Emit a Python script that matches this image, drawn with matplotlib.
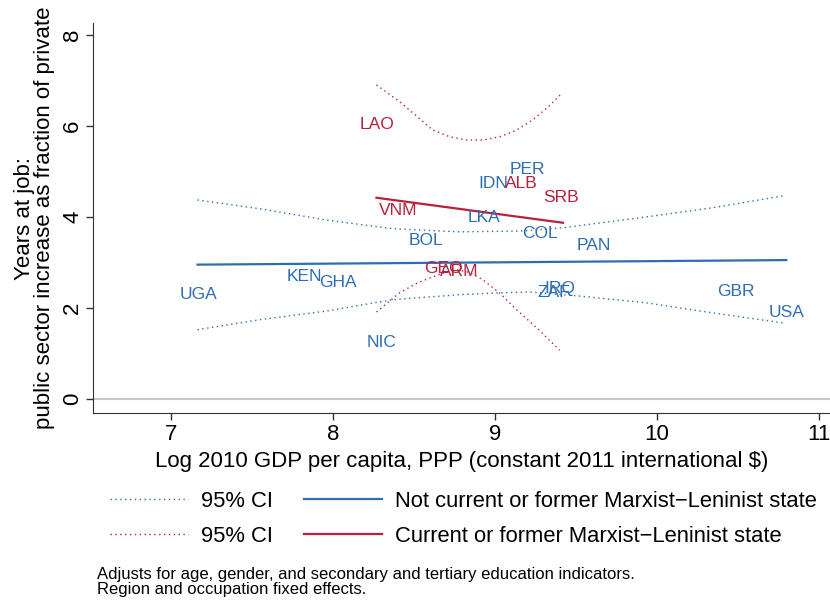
import matplotlib
matplotlib.use("Agg")
import matplotlib.pyplot as plt
from matplotlib.lines import Line2D

plt.rcParams["font.family"] = ["Liberation Sans", "DejaVu Sans"]

BLUE = "#2f6db3"
RED = "#b5223b"

# country labels, not Marxist-Leninist
blue_codes = ["UGA", "KEN", "GHA", "NIC", "BOL", "IDN", "PER", "LKA", "COL", "PAN",
              "ZAF", "IRQ", "GBR", "USA"]
blue_x = [7.17, 7.82, 8.03, 8.30, 8.57, 8.99, 9.20, 8.93, 9.28, 9.61, 9.36, 9.40, 10.49, 10.80]
blue_y = [2.29, 2.70, 2.55, 1.23, 3.47, 4.73, 5.05, 3.98, 3.63, 3.36, 2.33, 2.42, 2.35, 1.89]

# current or former Marxist-Leninist
red_codes = ["LAO", "ALB", "SRB", "VNM", "GEO", "ARM"]
red_x = [8.27, 9.16, 9.41, 8.40, 8.68, 8.78]
red_y = [6.04, 4.73, 4.42, 4.13, 2.86, 2.81]

# fitted lines
blue_fit_x = [7.161, 10.80]
blue_fit_y = [2.95, 3.05]
red_fit_x = [8.267, 9.42]
red_fit_y = [4.42, 3.87]

# 95% CI bounds
blue_ci_up_x = [7.161, 7.544, 7.958, 8.366, 8.781, 9.170, 9.417, 9.937, 10.345, 10.778]
blue_ci_up_y = [4.37, 4.18, 3.93, 3.74, 3.67, 3.69, 3.76, 4.00, 4.20, 4.46]
blue_ci_lo_x = [7.161, 7.544, 7.958, 8.366, 8.781, 9.028, 9.213, 9.522, 9.937, 10.345, 10.778]
blue_ci_lo_y = [1.52, 1.74, 1.93, 2.18, 2.29, 2.33, 2.35, 2.26, 2.11, 1.89, 1.67]

red_ci_up_x = [8.267, 8.410, 8.520, 8.614, 8.720, 8.824, 8.930, 9.028, 9.130, 9.232, 9.330, 9.417]
red_ci_up_y = [6.90, 6.53, 6.20, 5.91, 5.76, 5.69, 5.69, 5.76, 5.90, 6.13, 6.42, 6.73]
red_ci_lo_x = [8.267, 8.410, 8.520, 8.614, 8.690, 8.762, 8.840, 8.923, 9.030, 9.133, 9.270, 9.399]
red_ci_lo_y = [1.91, 2.33, 2.55, 2.68, 2.78, 2.84, 2.78, 2.62, 2.32, 1.96, 1.52, 1.07]

x_ticks = [7, 8, 9, 10, 11]
y_ticks = [0, 2, 4, 6, 8]

fig = plt.figure(figsize=(8.3, 6), dpi=100)
ax = fig.add_axes([93 / 830, 187 / 600, 737 / 830, 390 / 600])

ax.axhline(0, color="#c8c8c8", lw=1.5, zorder=0)

dot = (0, (1, 2.5))
ax.plot(blue_ci_up_x, blue_ci_up_y, color=BLUE, lw=1.0, ls=dot)
ax.plot(blue_ci_lo_x, blue_ci_lo_y, color=BLUE, lw=1.0, ls=dot)
ax.plot(red_ci_up_x, red_ci_up_y, color=RED, lw=1.0, ls=dot)
ax.plot(red_ci_lo_x, red_ci_lo_y, color=RED, lw=1.0, ls=dot)

ax.plot(blue_fit_x, blue_fit_y, color=BLUE, lw=1.6)
ax.plot(red_fit_x, red_fit_y, color=RED, lw=1.6)

for code, x, y in zip(blue_codes, blue_x, blue_y):
    ax.text(x, y, code, color=BLUE, fontsize=12.5, ha="center", va="center")
for code, x, y in zip(red_codes, red_x, red_y):
    ax.text(x, y, code, color=RED, fontsize=12.5, ha="center", va="center")

ax.set_xlim(6.515, 11.07)
ax.set_ylim(-0.31, 8.26)
ax.set_xticks(x_ticks)
ax.set_yticks(y_ticks)
ax.tick_params(labelsize=16, length=5, width=1, color="#333333", pad=3)
ax.tick_params(axis="y", labelrotation=90, pad=2)
for lab in ax.get_yticklabels():
    lab.set_va("center")
for s in ["top", "right"]:
    ax.spines[s].set_visible(False)
for s in ["left", "bottom"]:
    ax.spines[s].set_color("#333333")

ax.set_xlabel("Log 2010 GDP per capita, PPP (constant 2011 international $)", fontsize=16, labelpad=4)
ax.set_ylabel("Years at job:\npublic sector increase as fraction of private", fontsize=16,
              labelpad=5, linespacing=0.95)

handles = [
    Line2D([], [], color=BLUE, lw=1.0, ls=dot),
    Line2D([], [], color=RED, lw=1.0, ls=dot),
    Line2D([], [], color=BLUE, lw=1.6),
    Line2D([], [], color=RED, lw=1.6),
]
labels = ["95% CI", "95% CI", "Not current or former Marxist\u2212Leninist state",
          "Current or former Marxist\u2212Leninist state"]
fig.legend(handles, labels, ncol=2, frameon=False, fontsize=15.8,
           loc="upper left", bbox_to_anchor=(90 / 830, 1 - 471 / 600),
           handlelength=3.55, handletextpad=0.62, columnspacing=1.4, labelspacing=0.64)

fig.text(97 / 830, 1 - 567 / 600,
         "Adjusts for age, gender, and secondary and tertiary education indicators.\n"
         "Region and occupation fixed effects.",
         fontsize=12, va="top", ha="left", linespacing=1.0)

fig.savefig("out.png", dpi=100)
